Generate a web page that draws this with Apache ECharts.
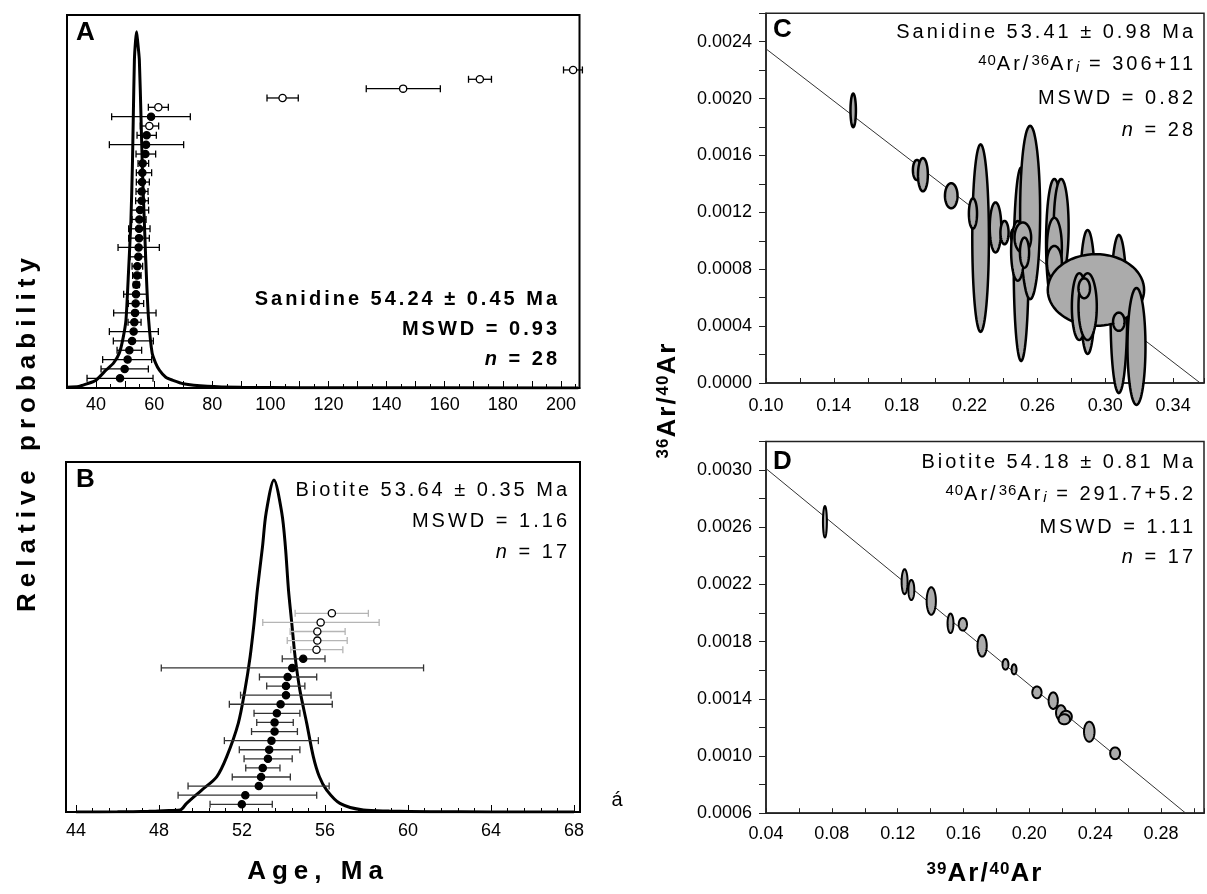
<!DOCTYPE html>
<html><head><meta charset="utf-8">
<script src="https://cdn.jsdelivr.net/npm/echarts@6/dist/echarts.min.js"></script>
<style>html,body{margin:0;padding:0;background:#fff}#c{width:1207px;height:894px}</style>
</head><body><div id="c"></div>
<script>
// ---------- Panel A: sanidine probability curve and single-crystal ages ----------
const A_curveAge  = [30, 34, 36.6, 40, 43.4, 46, 48, 49.3, 50.3, 51.2, 52.0, 52.5, 52.8, 53.2, 53.6, 53.95, 54.3, 54.9, 55.5, 56.0, 56.6, 57.4, 58.1, 59.3, 60.5, 61.8, 64, 66.3, 70, 78.3, 90, 110, 206];
const A_curveProb = [0.002, 0.004, 0.011, 0.022, 0.05, 0.07, 0.098, 0.14, 0.191, 0.33, 0.47, 0.62, 0.752, 0.921, 0.975, 1.0, 0.975, 0.921, 0.752, 0.6, 0.47, 0.3, 0.191, 0.098, 0.07, 0.05, 0.03, 0.022, 0.012, 0.005, 0.002, 0.001, 0];
// ages listed bottom to top
const A_age  = [48.26, 49.84, 50.87, 51.46, 52.39, 52.94, 53.18, 53.42, 53.63, 53.76, 53.87, 54.11, 54.21, 54.56, 54.66, 54.8, 54.8, 54.9, 55.14, 55.69, 55.69, 55.83, 55.93, 56.04, 56.97, 57.21, 57.41, 58.34, 58.93, 61.44, 104.2, 145.7, 172.1, 204.2];
const A_lo   = [36.9, 41.72, 42.27, 47.23, 45.95, 44.58, 51.01, 46.06, 51.11, 49.5, 52.84, 52.59, 52.39, 51.7, 47.57, 51.22, 51.22, 52.39, 52.15, 53.63, 53.76, 53.87, 53.87, 54.45, 53.76, 44.58, 54.11, 55.24, 45.37, 58.0, 98.84, 133.0, 168.2, 200.9];
const A_hi   = [59.61, 58.0, 59.13, 55.69, 59.72, 61.44, 55.49, 60.65, 56.38, 57.55, 54.9, 55.49, 56.04, 56.86, 61.78, 58.34, 58.58, 57.21, 58.1, 58.0, 57.89, 58.34, 59.13, 58.1, 60.51, 70.15, 60.75, 61.54, 72.45, 64.88, 109.6, 158.5, 176.1, 207.4];
const A_open = [0,0,0,0,0,0,0,0,0,0,0,0,0,0,0,0,0,0,0,0,0,0,0,0,0,0,0,1,0,1,1,1,1,1];
const A_tickLabels = [40, 60, 80, 100, 120, 140, 160, 180, 200];

// ---------- Panel B: biotite ----------
const B_curveAge  = [44, 46, 47.5, 48.22, 49.01, 49.33, 50.06, 50.78, 51.26, 51.82, 52.14, 52.39, 52.58, 52.74, 52.99, 53.16, 53.54, 53.92, 54.09, 54.24, 54.40, 54.56, 54.79, 55.12, 55.44, 55.73, 56.08, 56.72, 57.85, 59.1, 61.1, 64, 68];
const B_curveProb = [0, 0.0005, 0.002, 0.004, 0.006, 0.026, 0.066, 0.106, 0.166, 0.267, 0.367, 0.467, 0.568, 0.669, 0.8, 0.9, 1.0, 0.9, 0.8, 0.669, 0.568, 0.467, 0.367, 0.267, 0.166, 0.106, 0.066, 0.026, 0.006, 0.003, 0.001, 0.0003, 0];
const B_age  = [51.99, 52.16, 52.81, 52.92, 53.00, 53.25, 53.31, 53.42, 53.57, 53.57, 53.68, 53.86, 54.12, 54.12, 54.20, 54.42, 54.95, 55.59, 55.63, 55.63, 55.79, 56.33];
const B_lo   = [50.46, 48.92, 49.40, 51.53, 52.18, 52.10, 51.87, 51.15, 52.46, 52.71, 52.58, 51.39, 51.93, 53.19, 52.84, 48.11, 53.94, 54.35, 54.18, 54.32, 53.00, 54.56];
const B_hi   = [53.46, 55.60, 56.20, 54.33, 53.83, 54.42, 54.79, 55.68, 54.67, 54.47, 54.79, 56.35, 56.29, 55.03, 55.60, 60.75, 56.00, 56.86, 57.07, 56.97, 58.61, 58.09];
const B_open = [0,0,0,0,0,0,0,0,0,0,0,0,0,0,0,0,0,1,1,1,1,1];
const B_tickLabels = [44, 48, 52, 56, 60, 64, 68];

// ---------- Panel C: sanidine isochron (39Ar/40Ar, 36Ar/40Ar, half-widths) ----------
const C_x  = [0.1514, 0.1890, 0.1925, 0.2092, 0.2265, 0.2220, 0.2353, 0.2406, 0.2459, 0.2504, 0.2557, 0.2484, 0.2514, 0.2524, 0.2700, 0.2740, 0.2700, 0.2700, 0.2896, 0.3080, 0.2945, 0.3184, 0.3080, 0.2847, 0.2896, 0.2876];
const C_y  = [0.001917, 0.001498, 0.001465, 0.001317, 0.001019, 0.001192, 0.001094, 0.001058, 0.001035, 0.000835, 0.001199, 0.000929, 0.001023, 0.000917, 0.000988, 0.001094, 0.000952, 0.000847, 0.000640, 0.000485, 0.000654, 0.000257, 0.000431, 0.000537, 0.000537, 0.000666];
const C_rx = [0.0016, 0.0024, 0.0029, 0.0037, 0.0049, 0.0024, 0.0034, 0.0024, 0.0015, 0.0044, 0.0059, 0.0039, 0.0049, 0.0027, 0.0049, 0.0044, 0.0044, 0.0044, 0.0044, 0.0049, 0.0284, 0.0053, 0.0034, 0.0044, 0.0054, 0.0034];
const C_ry = [0.000118, 0.000071, 0.000117, 0.000088, 0.000659, 0.000106, 0.000176, 0.000082, 0.000047, 0.000680, 0.000610, 0.000210, 0.000106, 0.000106, 0.000447, 0.000341, 0.000210, 0.000117, 0.000436, 0.000556, 0.000252, 0.000411, 0.000064, 0.000235, 0.000235, 0.000070];
const C_lineX = [0.10, 0.356];
const C_lineY = [0.00235, 0];
const C_xTickLabels = ['0.10', '0.14', '0.18', '0.22', '0.26', '0.30', '0.34'];
const C_yTickLabels = ['0.0000', '0.0004', '0.0008', '0.0012', '0.0016', '0.0020', '0.0024'];

// ---------- Panel D: biotite isochron ----------
const D_x  = [0.0758, 0.1242, 0.1283, 0.1404, 0.1521, 0.1596, 0.1713, 0.1855, 0.1907, 0.2046, 0.2145, 0.2192, 0.2223, 0.2212, 0.2364, 0.2521];
const D_y  = [0.002638, 0.002219, 0.002161, 0.002084, 0.001928, 0.001921, 0.001771, 0.001641, 0.001606, 0.001445, 0.001387, 0.001303, 0.001275, 0.001257, 0.001170, 0.001019];
const D_rx = [0.0012, 0.0018, 0.0018, 0.0028, 0.0018, 0.0025, 0.0028, 0.0018, 0.0015, 0.0028, 0.0028, 0.0030, 0.0035, 0.0035, 0.0032, 0.0030];
const D_ry = [0.000109, 0.000087, 0.000070, 0.000096, 0.000068, 0.000044, 0.000076, 0.000037, 0.000035, 0.000041, 0.000058, 0.000052, 0.000041, 0.000035, 0.000070, 0.000041];
const D_lineX = [0.04, 0.295];
const D_lineY = [0.00301, 0.0006];
const D_xTickLabels = ['0.04', '0.08', '0.12', '0.16', '0.20', '0.24', '0.28'];
const D_yTickLabels = ['0.0006', '0.0010', '0.0014', '0.0018', '0.0022', '0.0026', '0.0030'];

// ---- letter spacing support for annotation fonts (family marker zspN) ----
(function(){
  const P = CanvasRenderingContext2D.prototype;
  ['fillText','strokeText','measureText'].forEach(function(fn){
    const orig = P[fn];
    P[fn] = function(){
      if ('letterSpacing' in this) {
        const m = /zsp(\d+)/.exec(this.font || '');
        this.letterSpacing = m ? m[1] + 'px' : '0px';
      }
      return orig.apply(this, arguments);
    };
  });
})();

const FF = '"Liberation Sans"';
const zip = (a, b) => a.map((v, i) => [v, b[i]]);

function barItem(color) {
  return function(params, api) {
    const y = api.value(1);
    const p = api.coord([api.value(0), y]);
    const l = api.coord([api.value(2), y]);
    const r = api.coord([api.value(3), y]);
    const open = api.value(4) === 1;
    const col = typeof color === 'function' ? color(open) : color;
    const ls = {stroke: col, lineWidth: 1.3};
    return {type: 'group', children: [
      {type: 'line', shape: {x1: l[0], y1: p[1], x2: r[0], y2: p[1]}, style: ls},
      {type: 'line', shape: {x1: l[0], y1: p[1] - 3.5, x2: l[0], y2: p[1] + 3.5}, style: ls},
      {type: 'line', shape: {x1: r[0], y1: p[1] - 3.5, x2: r[0], y2: p[1] + 3.5}, style: ls},
      {type: 'circle', shape: {cx: p[0], cy: p[1], r: 3.6}, style: {fill: open ? '#fff' : '#000', stroke: '#000', lineWidth: 1.3}}
    ]};
  };
}
function ellipseItem(lw) {
  return function(params, api) {
    const c = api.coord([api.value(0), api.value(1)]);
    const s = api.size([api.value(2), api.value(3)]);
    const pts = [];
    for (let k = 0; k < 72; k++) {
      const t = k / 72 * 2 * Math.PI;
      pts.push([c[0] + s[0] * Math.cos(t), c[1] + s[1] * Math.sin(t)]);
    }
    return {type: 'polygon', shape: {points: pts}, style: {fill: '#ababab', stroke: '#000', lineWidth: lw}};
  };
}

const A_rows = A_age.map((v, i) => [v, i + 1, A_lo[i], A_hi[i], A_open[i]]);
const B_rows = B_age.map((v, i) => [v, i + 1, B_lo[i], B_hi[i], B_open[i]]);
const C_ell = C_x.map((v, i) => [v, C_y[i], C_rx[i], C_ry[i]]);
const D_ell = D_x.map((v, i) => [v, D_y[i], D_rx[i], D_ry[i]]);

const lab = {color: '#000', fontFamily: FF, fontSize: 18};

function T(text, x, y, font, align, extra) {
  const st = Object.assign({text: text, font: font, fill: '#000', align: align, verticalAlign: 'middle',
    textAlign: align, textVerticalAlign: 'middle'}, (extra && extra.style) || {});
  const el = {type: 'text', x: x, y: y, z: 100, style: st};
  if (extra && extra.rotation) el.rotation = extra.rotation;
  return el;
}
const statF = `20px ${FF}, zsp3`;
const statB = `bold 20px ${FF}, zsp3`;
const richN = {
  sup: {font: `15px ${FF}, zsp1`, verticalAlign: 'top'},
  sub: {font: `italic 15px ${FF}, zsp1`, verticalAlign: 'bottom'},
  it: {font: `italic 20px ${FF}, zsp3`},
  itb: {font: `italic bold 20px ${FF}, zsp3`}
};
const richT = {
  s: {font: `bold 17px ${FF}, zsp1`, verticalAlign: 'top'},
  b: {font: `bold 26px ${FF}, zsp2`}
};

const chart = echarts.init(document.getElementById('c'));
chart.setOption({
  animation: false,
  backgroundColor: '#fff',
  grid: [
    {left: 67, top: 15, width: 512.5, height: 373, show: true, borderColor: '#000', borderWidth: 2},
    {left: 76, top: 462, width: 498, height: 350, show: false},
    {left: 766, top: 13.3, width: 439, height: 369.7, show: true, borderColor: '#222', borderWidth: 1.5},
    {left: 766, top: 441.4, width: 439, height: 371.8, show: true, borderColor: '#222', borderWidth: 1.5}
  ],
  xAxis: [
    {gridIndex: 0, type: 'value', min: 30, max: 206.4, interval: 10,
      axisLine: {lineStyle: {color: '#000', width: 2}}, splitLine: {show: false},
      axisTick: {inside: true, length: 7, lineStyle: {color: '#000'}},
      minorTick: {show: true, splitNumber: 2, length: 4, lineStyle: {color: '#000'}},
      axisLabel: Object.assign({margin: 8, formatter: v => A_tickLabels.includes(Math.round(v)) && Math.abs(v - Math.round(v)) < 1e-6 ? String(Math.round(v)) : ''}, lab)},
    {gridIndex: 1, type: 'value', min: 44, max: 68, interval: 4,
      axisLine: {show: false}, splitLine: {show: false},
      axisTick: {inside: true, length: 7, lineStyle: {color: '#000'}},
      minorTick: {show: true, splitNumber: 5, length: 4, lineStyle: {color: '#000'}},
      axisLabel: Object.assign({margin: 10, formatter: v => B_tickLabels.includes(Math.round(v)) ? String(Math.round(v)) : ''}, lab)},
    {gridIndex: 2, type: 'value', min: 0.10, max: 0.3582, interval: 0.02,
      axisLine: {lineStyle: {color: '#222', width: 1.5}}, splitLine: {show: false},
      axisTick: {inside: true, length: 5, lineStyle: {color: '#222'}},
      axisLabel: Object.assign({margin: 14, formatter: v => C_xTickLabels.includes(v.toFixed(2)) ? v.toFixed(2) : ''}, lab)},
    {gridIndex: 3, type: 'value', min: 0.04, max: 0.3061, interval: 0.02,
      axisLine: {lineStyle: {color: '#222', width: 1.5}}, splitLine: {show: false},
      axisTick: {inside: true, length: 5, lineStyle: {color: '#222'}},
      axisLabel: Object.assign({margin: 12, formatter: v => D_xTickLabels.includes(v.toFixed(2)) ? v.toFixed(2) : ''}, lab)}
  ],
  yAxis: [
    {gridIndex: 0, type: 'value', min: 0, max: 1.047, show: false},
    {gridIndex: 0, type: 'value', min: -0.04, max: 39.88, show: false},
    {gridIndex: 1, type: 'value', min: 0, max: 1.054, show: false},
    {gridIndex: 1, type: 'value', min: 0.153, max: 38.64, show: false},
    {gridIndex: 2, type: 'value', min: 0, max: 0.0026, interval: 0.0002,
      axisLine: {show: true, lineStyle: {color: '#222', width: 1.5}}, splitLine: {show: false},
      axisTick: {show: true, inside: false, length: 7, lineStyle: {color: '#222'}},
      axisLabel: Object.assign({margin: 14, formatter: v => C_yTickLabels.includes(v.toFixed(4)) ? v.toFixed(4) : ''}, lab)},
    {gridIndex: 3, type: 'value', min: 0.0006, max: 0.0032, interval: 0.0002,
      axisLine: {show: true, lineStyle: {color: '#222', width: 1.5}}, splitLine: {show: false},
      axisTick: {show: true, inside: false, length: 7, lineStyle: {color: '#222'}},
      axisLabel: Object.assign({margin: 14, formatter: v => D_yTickLabels.includes(v.toFixed(4)) ? v.toFixed(4) : ''}, lab)}
  ],
  series: [
    {type: 'line', xAxisIndex: 0, yAxisIndex: 0, data: zip(A_curveAge, A_curveProb), showSymbol: false, smooth: 0.2,
      lineStyle: {color: '#000', width: 3}, z: 3},
    {type: 'custom', xAxisIndex: 0, yAxisIndex: 1, data: A_rows, renderItem: barItem('#000'), clip: false, z: 4},
    {type: 'line', xAxisIndex: 1, yAxisIndex: 2, data: zip(B_curveAge, B_curveProb), showSymbol: false, smooth: 0.3,
      lineStyle: {color: '#000', width: 3}, z: 3},
    {type: 'custom', xAxisIndex: 1, yAxisIndex: 3, data: B_rows, renderItem: barItem(o => o ? '#b5b5b5' : '#333'), clip: false, z: 4},
    {type: 'line', xAxisIndex: 2, yAxisIndex: 4, data: zip(C_lineX, C_lineY), showSymbol: false,
      lineStyle: {color: '#333', width: 1}, z: 2},
    {type: 'custom', xAxisIndex: 2, yAxisIndex: 4, data: C_ell, renderItem: ellipseItem(2.5), clip: false, z: 3},
    {type: 'line', xAxisIndex: 3, yAxisIndex: 5, data: zip(D_lineX, D_lineY), showSymbol: false,
      lineStyle: {color: '#333', width: 1}, z: 2},
    {type: 'custom', xAxisIndex: 3, yAxisIndex: 5, data: D_ell, renderItem: ellipseItem(2), clip: false, z: 3}
  ],
  graphic: [
    {type: 'rect', z: 90, shape: {x: 66, y: 462, width: 514, height: 350}, style: {fill: 'none', stroke: '#000', lineWidth: 2}},
    T('A', 76, 33, `bold 26px ${FF}`, 'left'),
    T('Sanidine 54.24 ± 0.45 Ma', 560, 299, statB, 'right'),
    T('MSWD = 0.93', 560, 329, statB, 'right'),
    T('{itb|n} = 28', 560, 359, statB, 'right', {style: {rich: richN}}),
    T('B', 76, 480, `bold 26px ${FF}`, 'left'),
    T('Biotite 53.64 ± 0.35 Ma', 570, 490, statF, 'right'),
    T('MSWD = 1.16', 570, 521, statF, 'right'),
    T('{it|n} = 17', 570, 552, statF, 'right', {style: {rich: richN}}),
    T('C', 773, 30, `bold 26px ${FF}`, 'left'),
    T('Sanidine 53.41 ± 0.98 Ma', 1196, 32, statF, 'right'),
    T('{sup|40}Ar/{sup|36}Ar{sub|i} = 306+11', 1196, 64, statF, 'right', {style: {rich: richN}}),
    T('MSWD = 0.82', 1196, 98, statF, 'right'),
    T('{it|n} = 28', 1196, 130, statF, 'right', {style: {rich: richN}}),
    T('D', 773, 462, `bold 26px ${FF}`, 'left'),
    T('Biotite 54.18 ± 0.81 Ma', 1196, 462, statF, 'right'),
    T('{sup|40}Ar/{sup|36}Ar{sub|i} = 291.7+5.2', 1196, 494, statF, 'right', {style: {rich: richN}}),
    T('MSWD = 1.11', 1196, 527, statF, 'right'),
    T('{it|n} = 17', 1196, 557, statF, 'right', {style: {rich: richN}}),
    T('Relative probability', 28, 432, `bold 26px ${FF}, zsp6`, 'center', {rotation: Math.PI / 2}),
    T('Age, Ma', 318, 872, `bold 26px ${FF}, zsp6`, 'center'),
    T('{s|39}{b|Ar/}{s|40}{b|Ar}', 985, 874, `bold 26px ${FF}, zsp2`, 'center', {style: {rich: richT}}),
    T('{s|36}{b|Ar/}{s|40}{b|Ar}', 668, 400, `bold 26px ${FF}, zsp2`, 'center', {rotation: Math.PI / 2, style: {rich: richT}}),
    T('á', 617, 800, `20px ${FF}`, 'center')
  ]
});
</script></body></html>
